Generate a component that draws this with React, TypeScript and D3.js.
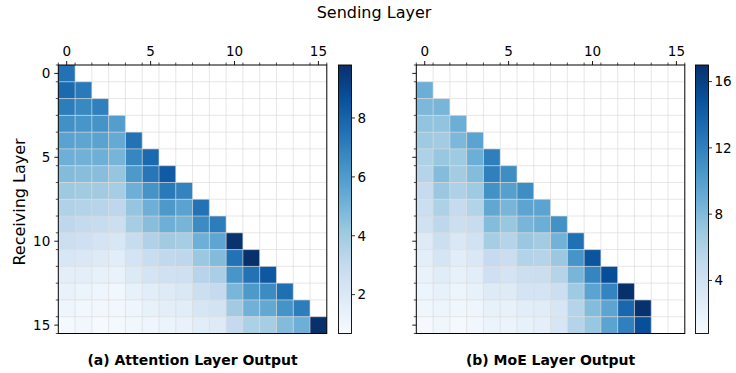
import React from "react";
import * as d3 from "d3";

const layers = d3.range(16);
const majorTicks = [0, 5, 10, 15];

// Attention layer output (lower triangle incl. diagonal), row = receiving layer
const attnRows: number[][] = [
  [7.5],
  [7.8, 7.2],
  [7.1, 6.7, 7.0],
  [6.4, 6.2, 6.3, 5.9],
  [5.7, 5.6, 5.7, 5.4, 7.5],
  [5.2, 5.1, 5.2, 5.0, 6.8, 7.8],
  [4.7, 4.6, 4.6, 4.3, 6.1, 7.3, 8.3],
  [4.1, 4.0, 4.0, 3.9, 5.2, 6.3, 7.2, 6.9],
  [3.6, 3.5, 3.4, 3.2, 4.3, 5.2, 6.1, 5.7, 7.5],
  [3.2, 3.0, 2.9, 2.7, 3.9, 4.6, 5.2, 5.0, 6.6, 7.1],
  [2.7, 2.6, 2.3, 2.1, 2.9, 3.6, 4.0, 3.9, 5.2, 5.6, 9.7],
  [2.1, 2.0, 1.8, 1.7, 2.3, 2.8, 3.1, 3.2, 4.2, 4.7, 7.5, 9.8],
  [1.6, 1.6, 1.4, 1.3, 1.9, 2.3, 2.5, 2.6, 3.4, 3.8, 6.2, 7.5, 8.4],
  [1.3, 1.25, 1.1, 1.0, 1.4, 1.7, 1.8, 2.0, 2.7, 3.0, 4.9, 6.1, 6.6, 7.6],
  [1.1, 1.0, 0.95, 0.95, 1.1, 1.4, 1.6, 1.7, 2.2, 2.4, 4.0, 5.1, 5.5, 6.3, 7.1],
  [0.85, 0.95, 0.72, 0.8, 1.0, 1.1, 1.2, 1.3, 1.7, 1.8, 3.0, 3.7, 3.9, 4.7, 5.2, 9.8],
];

// MoE layer output (strictly lower triangle)
const moeRows: number[][] = [
  [],
  [8.9],
  [8.2, 8.4],
  [7.3, 7.3, 8.9],
  [6.8, 6.6, 8.2, 9.7],
  [6.1, 7.1, 6.8, 8.9, 12.1],
  [5.7, 7.9, 6.6, 7.9, 12.0, 11.2],
  [4.85, 7.0, 6.0, 6.8, 10.9, 9.9, 11.2],
  [4.4, 6.1, 4.85, 5.8, 9.4, 8.4, 9.6, 9.7],
  [4.0, 5.3, 4.4, 4.7, 7.9, 7.1, 8.4, 8.9, 10.9],
  [2.8, 4.4, 3.2, 3.9, 6.5, 5.7, 7.0, 6.6, 8.6, 13.0],
  [2.4, 3.6, 2.6, 3.2, 4.85, 4.5, 5.8, 5.7, 7.0, 10.7, 14.7],
  [1.9, 2.7, 2.1, 2.6, 4.2, 3.7, 4.4, 4.5, 5.7, 8.4, 11.7, 15.2],
  [1.6, 2.1, 1.6, 2.1, 2.8, 2.8, 3.7, 3.7, 4.4, 6.8, 9.7, 11.8, 17.0],
  [1.45, 1.6, 1.45, 1.5, 2.1, 2.1, 2.6, 2.7, 3.4, 5.7, 7.9, 9.6, 13.6, 16.9],
  [1.0, 1.45, 1.0, 1.3, 1.8, 1.8, 2.1, 2.3, 3.5, 5.7, 7.1, 9.7, 12.0, 15.1],
];

const attnTicks = [2, 4, 6, 8];
const moeTicks = [4, 8, 12, 16];
const attnRange: [number, number] = [0.68, 9.8];
const moeRange: [number, number] = [0.8, 17.0];

const blueStops = ["#f7fbff", "#deebf7", "#c6dbef", "#9ecae1", "#6baed6", "#4292c6", "#2171b5", "#08519c", "#08306b"];
const blues = d3.scaleLinear<string>()
  .domain(d3.range(9).map((i) => i / 8))
  .range(blueStops)
  .interpolate(d3.interpolateRgb)
  .clamp(true);

const FONT = "DejaVu Sans, sans-serif";

type PanelProps = {
  x0: number;
  rows: number[][];
  range: [number, number];
  cbTicks: number[];
  title: string;
  showYLabels: boolean;
  cbX: number;
};

const Y0 = 65;
const SIZE = 268.5;

function Panel({ x0, rows, range, cbTicks, title, showYLabels, cbX }: PanelProps) {
  const xs = d3.scaleLinear().domain([-0.5, 15.5]).range([x0, x0 + SIZE]);
  const ys = d3.scaleLinear().domain([-0.5, 15.5]).range([Y0, Y0 + SIZE]);
  const norm = d3.scaleLinear().domain(range).range([0, 1]);
  const cbY = d3.scaleLinear().domain(range).range([Y0 + SIZE, Y0]);
  const cw = xs(1) - xs(0);
  const gradId = "grad" + Math.round(x0);
  const bounds = d3.range(-0.5, 16, 1);
  return (
    <g>
      {rows.map((row, r) =>
        row.map((v, c) => (
          <rect key={r + "-" + c} x={xs(c - 0.5)} y={ys(r - 0.5)} width={cw} height={cw} fill={blues(norm(v))} />
        ))
      )}
      {bounds.slice(1, -1).map((b) => (
        <g key={"g" + b}>
          <line x1={xs(b)} x2={xs(b)} y1={Y0} y2={Y0 + SIZE} stroke="#d8d8d8" strokeOpacity={0.7} strokeWidth={0.9} />
          <line y1={ys(b)} y2={ys(b)} x1={x0} x2={x0 + SIZE} stroke="#d8d8d8" strokeOpacity={0.7} strokeWidth={0.9} />
        </g>
      ))}
      <rect x={x0} y={Y0} width={SIZE} height={SIZE} fill="none" stroke="#000" strokeWidth={1} />
      {bounds.map((b) => (
        <g key={"m" + b}>
          <line x1={xs(b)} x2={xs(b)} y1={Y0} y2={Y0 - 2.5} stroke="#000" strokeWidth={0.7} />
          <line y1={ys(b)} y2={ys(b)} x1={x0} x2={x0 - 2.5} stroke="#000" strokeWidth={0.7} />
        </g>
      ))}
      {majorTicks.map((t) => (
        <g key={"M" + t}>
          <line x1={xs(t)} x2={xs(t)} y1={Y0} y2={Y0 - 4} stroke="#000" strokeWidth={0.9} />
          <text x={xs(t)} y={Y0 - 9} textAnchor="middle" fontSize={13.5} fontFamily={FONT} fill="#000">{t}</text>
          <line y1={ys(t)} y2={ys(t)} x1={x0} x2={x0 - 4} stroke="#000" strokeWidth={0.9} />
          {showYLabels && (
            <text x={x0 - 8} y={ys(t)} dy="0.36em" textAnchor="end" fontSize={13.5} fontFamily={FONT} fill="#000">{t}</text>
          )}
        </g>
      ))}
      <defs>
        <linearGradient id={gradId} x1="0" y1="1" x2="0" y2="0">
          {d3.range(0, 1.0001, 0.125).map((o) => (
            <stop key={o} offset={o} stopColor={blues(o)} />
          ))}
        </linearGradient>
      </defs>
      <rect x={cbX} y={Y0} width={13} height={SIZE} fill={`url(#${gradId})`} stroke="#000" strokeWidth={0.9} />
      {cbTicks.map((t) => (
        <g key={"c" + t}>
          <line x1={cbX + 13} x2={cbX + 16.5} y1={cbY(t)} y2={cbY(t)} stroke="#000" strokeWidth={0.8} />
          <text x={cbX + 19} y={cbY(t)} dy="0.36em" fontSize={13.5} fontFamily={FONT} fill="#000">{t}</text>
        </g>
      ))}
      <text x={x0 + SIZE / 2} y={365} textAnchor="middle" fontSize={14} fontWeight="bold" fontFamily={FONT} fill="#000">{title}</text>
    </g>
  );
}

export default function App() {
  return (
    <svg width={736} height={373} style={{ position: "absolute", left: 0, top: 0, background: "#fff" }}>
      <rect width={736} height={373} fill="#fff" />
      <text x={374} y={18} textAnchor="middle" fontSize={16} fontFamily={FONT} fill="#000">Sending Layer</text>
      <text transform={`translate(25,202) rotate(-90)`} textAnchor="middle" fontSize={16} fontFamily={FONT} fill="#000">Receiving Layer</text>
      <Panel x0={58.3} rows={attnRows} range={attnRange} cbTicks={attnTicks} title="(a) Attention Layer Output" showYLabels={true} cbX={338.5} />
      <Panel x0={416.3} rows={moeRows} range={moeRange} cbTicks={moeTicks} title="(b) MoE Layer Output" showYLabels={false} cbX={695.5} />
    </svg>
  );
}
